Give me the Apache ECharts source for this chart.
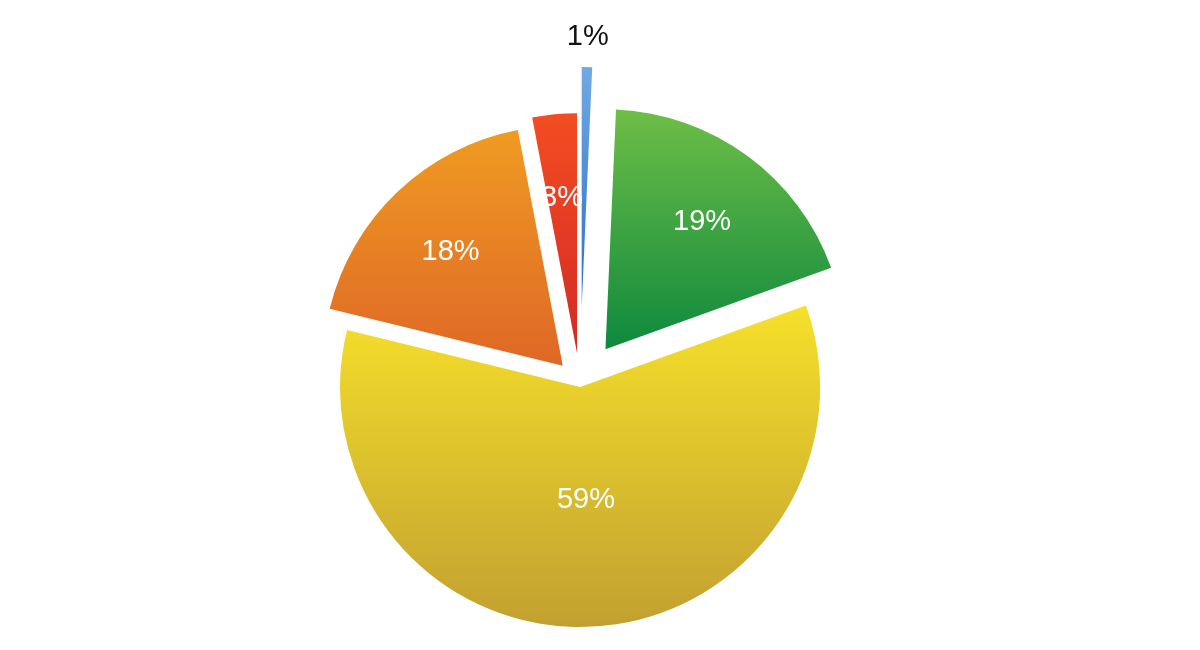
<!DOCTYPE html>
<html>
<head>
<meta charset="utf-8">
<script src="https://cdn.jsdelivr.net/npm/echarts@6/dist/echarts.min.js"></script>
<style>
  html, body { margin: 0; padding: 0; background: #ffffff; }
  #chart { width: 1200px; height: 650px; }
</style>
</head>
<body>
<div id="chart"></div>
<script>
// ---- data ----
const categories = ['Blue', 'Green', 'Yellow', 'Orange', 'Red'];
const values = [0.7, 18.8, 59.4, 18.2, 3.0];

// ---- style (not data) ----
const gradients = [
  ['#70aae3', '#2a6ec8'],
  ['#6dbe46', '#0e893e'],
  ['#f6e02a', '#c2a030'],
  ['#ef9b22', '#df6726'],
  ['#f34d22', '#d32a25']
];
const explodeOffsets = [77, 43, 3, 25, 31];
const labelRadii = [271, 160, 106, 160, 157];
const labelColors = ['#111111', '#ffffff', '#ffffff', '#ffffff', '#ffffff'];
const pieCenter = [580, 384];
const pieRadius = 240;

const total = values.reduce((a, b) => a + b, 0);
const transparent = 'rgba(0,0,0,0)';

function sliceCenter(i) {
  let cum = 0;
  for (let k = 0; k < i; k++) cum += values[k];
  const mid = (cum + values[i] / 2) / total * 2 * Math.PI;
  return [pieCenter[0] + explodeOffsets[i] * Math.sin(mid),
          pieCenter[1] - explodeOffsets[i] * Math.cos(mid)];
}

const common = {
  type: 'pie',
  startAngle: 90,
  clockwise: true,
  avoidLabelOverlap: false,
  minAngle: 0,
  minShowLabelAngle: 0,
  silent: true,
  animation: false,
  labelLine: { show: false },
  emphasis: { disabled: true },
  itemStyle: { borderWidth: 0 }
};

const series = [];
categories.forEach((name, i) => {
  const c = sliceCenter(i);
  series.push(Object.assign({}, common, {
    name: name + ' slice',
    center: c,
    radius: [0, pieRadius],
    label: { show: false },
    data: values.map((v, j) => ({
      name: categories[j],
      value: v,
      itemStyle: {
        borderWidth: 0,
        color: j === i
          ? new echarts.graphic.LinearGradient(0, 0, 0, 1, [
              { offset: 0, color: gradients[i][0] },
              { offset: 1, color: gradients[i][1] }
            ])
          : transparent
      }
    }))
  }));
});
categories.forEach((name, i) => {
  const c = sliceCenter(i);
  series.push(Object.assign({}, common, {
    name: name + ' label',
    center: c,
    radius: [labelRadii[i] - 4, labelRadii[i] + 4],
    z: 5,
    data: values.map((v, j) => ({
      name: categories[j],
      value: v,
      itemStyle: { color: transparent, borderWidth: 0 },
      label: {
        show: j === i,
        position: 'inner',
        rotate: 0,
        offset: [0, 4],
        color: labelColors[i],
        fontSize: 29,
        fontFamily: 'Liberation Sans, Arial, sans-serif',
        fontWeight: 'normal',
        formatter: p => Math.round(p.percent) + '%'
      }
    }))
  }));
});

const chart = echarts.init(document.getElementById('chart'), null, { renderer: 'canvas' });
chart.setOption({
  backgroundColor: '#ffffff',
  animation: false,
  series: series
});
</script>
</body>
</html>
